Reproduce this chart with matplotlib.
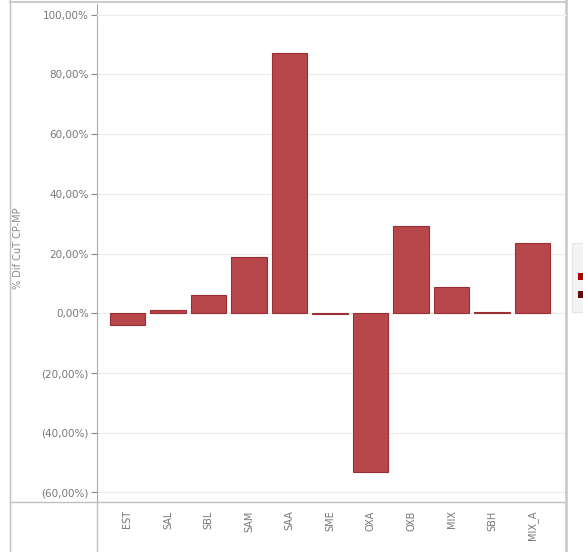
import matplotlib
matplotlib.use("Agg")
import matplotlib.pyplot as plt
from matplotlib.ticker import FuncFormatter, FixedLocator
from matplotlib.lines import Line2D
from matplotlib.patches import Rectangle

categories = ["EST", "SAL", "SBL", "SAM", "SAA", "SME", "OXA", "OXB", "MIX", "SBH", "MIX_A"]
values = [-4.0, 1.0, 6.3, 18.7, 87.3, -0.3, -53.0, 29.4, 8.7, 0.3, 23.7]
yticks = [100, 80, 60, 40, 20, 0, -20, -40, -60]
ylabel = "% Dif CuT CP-MP"

W, H = 583, 552
fig = plt.figure(figsize=(W / 100, H / 100), dpi=100)
ax = fig.add_axes([97 / W, (H - 502) / H, (565 - 97) / W, (502 - 4) / H])

x = list(range(len(categories)))
ax.bar(x, values, width=0.88, color="#b8474b", edgecolor="#9a2f33", linewidth=0.8, zorder=3)

ax.set_xlim(-0.75, 10.8)
ax.set_ylim(-63.2, 103.6)
ax.yaxis.set_major_locator(FixedLocator(yticks))

def fmt(v, pos):
    s = f"{abs(v):.2f}".replace(".", ",") + "%"
    return f"({s})" if v < 0 else s

ax.yaxis.set_major_formatter(FuncFormatter(fmt))
ax.grid(axis="y", color="#ececec", linewidth=0.8, zorder=0)
ax.set_xticks(x)
ax.set_xticklabels(categories, rotation=90, fontsize=7, color="#777777")
ax.tick_params(axis="x", length=0, pad=6)
ax.tick_params(axis="y", length=4, width=0.8, color="#888888", labelsize=7.5, labelcolor="#777777", pad=2)
for s in ["top", "right", "bottom"]:
    ax.spines[s].set_visible(False)
ax.spines["left"].set_color("#aaaaaa")
ax.spines["left"].set_linewidth(0.8)
ax.set_ylabel(ylabel, fontsize=7, color="#888888", labelpad=0)
ax.yaxis.set_label_coords(-(97 - 23) / (565 - 97), 0.51)

def fx(px):
    return px / W

def fy(py):
    return 1 - py / H

lc = "#c0c0c0"
fig.add_artist(Line2D([fx(10), fx(10)], [0, 1], color=lc, lw=1.0))
fig.add_artist(Line2D([fx(97), fx(97)], [0, fy(502)], color=lc, lw=1.0))
fig.add_artist(Line2D([fx(10), fx(565)], [fy(502), fy(502)], color=lc, lw=1.0))
fig.add_artist(Line2D([fx(566), fx(566)], [0, 1], color="#cccccc", lw=2.0))
fig.add_artist(Line2D([fx(10), fx(566)], [fy(2), fy(2)], color="#cccccc", lw=1.5))
fig.add_artist(Line2D([fx(97), fx(566)], [fy(15), fy(15)], color="#eeeeee", lw=0.8))

# legend fragment on the right edge
fig.add_artist(Rectangle((fx(572), fy(312)), fx(14), (312 - 243) / H, facecolor="#f4f4f4", edgecolor="#e6e6e6", lw=0.8))
fig.add_artist(Rectangle((fx(578), fy(280)), fx(6), 7 / H, facecolor="#b00000", edgecolor="none"))
fig.add_artist(Rectangle((fx(578), fy(298)), fx(6), 7 / H, facecolor="#6a0a0a", edgecolor="none"))

fig.savefig("out.png", dpi=100, facecolor="white")
